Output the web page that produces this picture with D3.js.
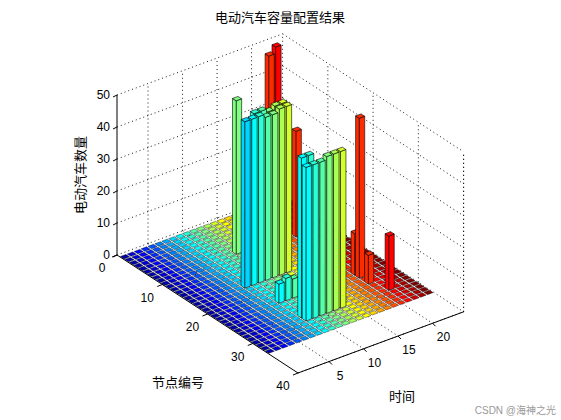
<!DOCTYPE html>
<html lang="zh">
<head>
<meta charset="UTF-8">
<title>电动汽车容量配置结果</title>
<script src="https://d3js.org/d3.v7.min.js"></script>
<style>
  body { margin: 0; background: #fff; }
  text { font-family: "Liberation Sans", Arial, "Noto Sans CJK SC", sans-serif; }
</style>
</head>
<body>
<div id="chart"></div>
<script>
// chart data: nonzero cells of the node x time matrix
var nodeCount = 33, timeCount = 24;
var barNodes = [9, 16,16,16,16,16, 17,17,17,17,17,17,17, 23,23,23, 28,28, 29,29,29,29,29,29, 4,4, 10, 23, 24, 26, 29];
var barTimes = [12, 10,11,12,13,14, 8,9,10,11,12,13,14, 9,10,11, 9,10, 9,10,11,12,13,14, 20,21, 20, 20, 20, 20, 21];
var barValues = [48, 52,52,51,52,52, 52,52,52,51,51,52,52, 6,7,6, 50,50, 48,48,48,49,49,49, 51,53, 33, 13, 50, 9, 17];
var zTicks = [0, 10, 20, 30, 40, 50];
var nodeTicks = [0, 10, 20, 30, 40];
var timeTicks = [5, 10, 15, 20];

var width = 561, height = 420;
var origin = [117, 255];
// projection: each axis contributes a screen offset
var nX = d3.scaleLinear().domain([0, 40]).range([0, 181]);
var nY = d3.scaleLinear().domain([0, 40]).range([0, 118]);
var tX = d3.scaleLinear().domain([0.5, 24.5]).range([0, 165.6]);
var tY = d3.scaleLinear().domain([0.5, 24.5]).range([0, -61.2]);
var zY = d3.scaleLinear().domain([0, 50]).range([0, -160]);

function P(n, t, z) {
  return [origin[0] + nX(n) + tX(t), origin[1] + nY(n) + tY(t) + zY(z)];
}

// MATLAB jet colormap
function jet(i, m) {
  var n = Math.ceil(m / 4);
  var u = [];
  for (var k = 1; k <= n; k++) u.push(k / n);
  for (var k = 1; k < n; k++) u.push(1);
  for (var k = n; k >= 1; k--) u.push(k / n);
  var g0 = Math.ceil(n / 2) - (m % 4 === 1 ? 1 : 0);
  function pick(off) { var j = i - g0 - off - 1; return (j >= 0 && j < u.length) ? u[j] : 0; }
  return d3.rgb(255 * pick(n), 255 * pick(0), 255 * pick(-n)).toString();
}

var svg = d3.select("#chart").append("svg")
  .attr("width", width).attr("height", height);

var line = d3.line();
function seg(a, b, dotted) {
  svg.append("path").attr("d", line([a, b]))
    .attr("stroke", "#000").attr("stroke-width", dotted ? 0.9 : 1)
    .attr("stroke-dasharray", dotted ? "1,3" : null).attr("fill", "none");
}

// grids on back walls and floor
zTicks.slice(1).forEach(function (z) {
  seg(P(0, 0.5, z), P(0, 24.5, z), true);
  seg(P(0, 24.5, z), P(40, 24.5, z), true);
});
timeTicks.forEach(function (t) {
  seg(P(0, t, 0), P(0, t, 50), true);
  seg(P(0, t, 0), P(40, t, 0), true);
});
nodeTicks.slice(1).forEach(function (n) {
  seg(P(n, 24.5, 0), P(n, 24.5, 50), true);
  seg(P(n, 0.5, 0), P(n, 24.5, 0), true);
});
seg(P(0, 24.5, 0), P(0, 24.5, 50), true);
seg(P(40, 24.5, 0), P(40, 24.5, 50), true);
seg(P(0, 24.5, 0), P(40, 24.5, 0), true);
seg(P(0, 0.5, 0), P(0, 24.5, 0), true);

// matrix
var Z = d3.range(nodeCount).map(function () { return d3.range(timeCount).map(function () { return 0; }); });
barNodes.forEach(function (n, i) { Z[n - 1][barTimes[i] - 1] = barValues[i]; });

var cells = [];
for (var n = 1; n <= nodeCount; n++)
  for (var t = 1; t <= timeCount; t++) cells.push({ n: n, t: t, h: Z[n - 1][t - 1] });
cells.sort(function (a, b) { return (a.n - a.t) - (b.n - b.t) || a.n - b.n; });

var w = 0.4;
var bars = svg.append("g");
cells.forEach(function (c) {
  var col = jet(c.t, timeCount);
  var faces = [];
  if (c.h > 0) {
    faces.push([P(c.n + w, c.t - w, 0), P(c.n + w, c.t + w, 0), P(c.n + w, c.t + w, c.h), P(c.n + w, c.t - w, c.h)]);
    faces.push([P(c.n - w, c.t - w, 0), P(c.n + w, c.t - w, 0), P(c.n + w, c.t - w, c.h), P(c.n - w, c.t - w, c.h)]);
  }
  faces.push([P(c.n - w, c.t - w, c.h), P(c.n + w, c.t - w, c.h), P(c.n + w, c.t + w, c.h), P(c.n - w, c.t + w, c.h)]);
  faces.forEach(function (f) {
    bars.append("path").attr("d", line(f) + "Z")
      .attr("fill", col).attr("stroke", "#000").attr("stroke-width", c.h > 0 ? 0.6 : 0.4);
  });
});

// axes
seg(P(0, 0.5, 0), P(0, 0.5, 50), false);
seg(P(0, 0.5, 0), P(40, 0.5, 0), false);
seg(P(40, 0.5, 0), P(40, 24.5, 0), false);

zTicks.forEach(function (z) {
  var p = P(0, 0.5, z);
  seg(p, [p[0] - 4, p[1] + 2], false);
  svg.append("text").attr("x", p[0] - 7).attr("y", p[1] + 4)
    .attr("text-anchor", "end").attr("font-size", 12).text(z);
});
nodeTicks.forEach(function (n) {
  var p = P(n, 0.5, 0);
  seg(p, [p[0] - 5, p[1] + 2], false);
  svg.append("text").attr("x", p[0] - 15).attr("y", p[1] + 17)
    .attr("text-anchor", "middle").attr("font-size", 12).text(n);
});
timeTicks.forEach(function (t) {
  var p = P(40, t, 0);
  seg(p, [p[0] + 3, p[1] + 3], false);
  svg.append("text").attr("x", p[0] + 11).attr("y", p[1] + 18)
    .attr("text-anchor", "middle").attr("font-size", 12).text(t);
});

svg.append("text").attr("x", 280).attr("y", 22).attr("text-anchor", "middle")
  .attr("font-size", 13).text("电动汽车容量配置结果");
svg.append("text").attr("x", 178).attr("y", 387).attr("text-anchor", "middle")
  .attr("font-size", 13).text("节点编号");
svg.append("text").attr("x", 402).attr("y", 401).attr("text-anchor", "middle")
  .attr("font-size", 13).text("时间");
svg.append("text").attr("transform", "translate(85,175) rotate(-90)")
  .attr("text-anchor", "middle").attr("font-size", 13).text("电动汽车数量");
svg.append("text").attr("x", 556).attr("y", 414).attr("text-anchor", "end")
  .attr("font-size", 10).attr("fill", "#999").text("CSDN @海神之光");
</script>
</body>
</html>
